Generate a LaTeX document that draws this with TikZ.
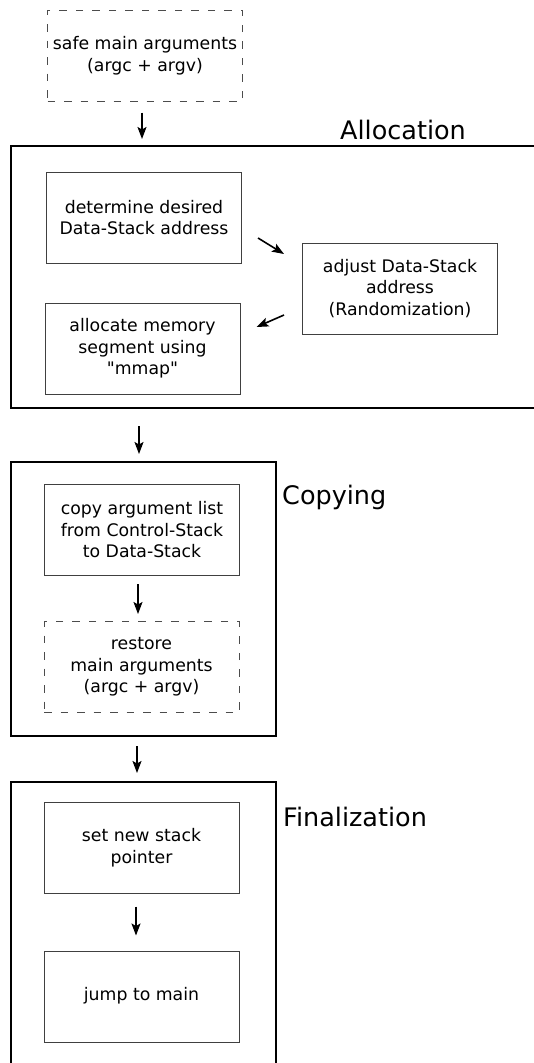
\documentclass[tikz,border=0pt]{standalone}
\usepackage{fontspec}
\setmainfont{DejaVu Sans}[Ligatures=TeXOff]
\usetikzlibrary{arrows.meta,calc}

\tikzset{
  x=1pt, y=-1pt,
  stepbox/.style={draw=black!75, line width=1pt, rectangle,
    minimum width=195pt, minimum height=91pt, inner sep=0pt,
    align=center, font=\fontsize{17.3}{21.5}\selectfont},
  optbox/.style={stepbox, draw=black!70, dash pattern=on 7.5pt off 9pt},
  phase/.style={draw=black, line width=2pt, rectangle, inner sep=0pt},
  phasename/.style={font=\fontsize{25.5}{30}\selectfont, inner sep=0pt},
  flow/.style={line width=1.6pt, -{Stealth[length=12pt,width=9pt,inset=2.5pt]}},
}

\begin{document}
\begin{tikzpicture}
\useasboundingbox (0,0) rectangle (534,1063);
\clip (0,0) rectangle (534,1063);

% entry: saving the main arguments
\node[optbox] (safe) at (145,55.5) {safe main arguments\\(argc + argv)};

% phase 1: allocation
\node[phase, minimum width=534pt, minimum height=262pt] (allocgrp) at (278,277) {};
\node[phasename] (alloclbl) at (403,130) {Allocation};
\node[stepbox] (determine) at (144,217.5) {determine desired\\Data-Stack address};
\node[stepbox] (adjust) at (400,288.5) {adjust Data-Stack\\address\\(Randomization)};
\node[stepbox] (allocate) at (142.5,348.5) {allocate memory\\segment using\\"mmap"};

% phase 2: copying
\node[phase, minimum width=265pt, minimum height=274pt] (copygrp) at (143.5,599) {};
\node[phasename, anchor=west] (copylbl) at (282,497) {Copying};
\node[stepbox] (copy) at (142,530) {copy argument list\\from Control-Stack\\to Data-Stack};
\node[optbox] (restore) at (141.5,667) {restore\\main arguments\\(argc + argv)};

% phase 3: finalization
\node[phase, minimum width=265pt, minimum height=300pt] (finalgrp) at (143.5,932) {};
\node[phasename, anchor=west] (finallbl) at (283,817) {Finalization};
\node[stepbox] (setsp) at (141.5,847.5) {set new stack\\pointer};
\node[stepbox] (jump) at (141.5,996.5) {\raisebox{6pt}{jump to main}};

% connectors
\draw[flow, shorten <=11pt, shorten >=6pt]
  ([xshift=-3pt]safe.south) -- ([xshift=-3pt]safe.south |- allocgrp.north);
\draw[flow] ([xshift=16pt,yshift=-20.5pt]determine.east)
  -- ([xshift=-18pt,yshift=34.5pt]adjust.west);
\draw[flow] ([xshift=-18pt,yshift=-26.5pt]adjust.west)
  -- ([xshift=16pt,yshift=21.5pt]allocate.east);
\draw[flow, shorten <=17pt, shorten >=7pt]
  ([xshift=-4.5pt]copygrp.north |- allocgrp.south) -- ([xshift=-4.5pt]copygrp.north);
\draw[flow, shorten <=8pt, shorten >=7pt]
  ([xshift=-4pt]copy.south) -- ([xshift=-3.5pt]restore.north);
\draw[flow, shorten <=9pt, shorten >=8pt]
  ([xshift=-6.5pt]copygrp.south) -- ([xshift=-6.5pt]finalgrp.north);
\draw[flow, shorten <=13pt, shorten >=15pt]
  ([xshift=-5.5pt]setsp.south) -- ([xshift=-5.5pt]jump.north);
\end{tikzpicture}
\end{document}
